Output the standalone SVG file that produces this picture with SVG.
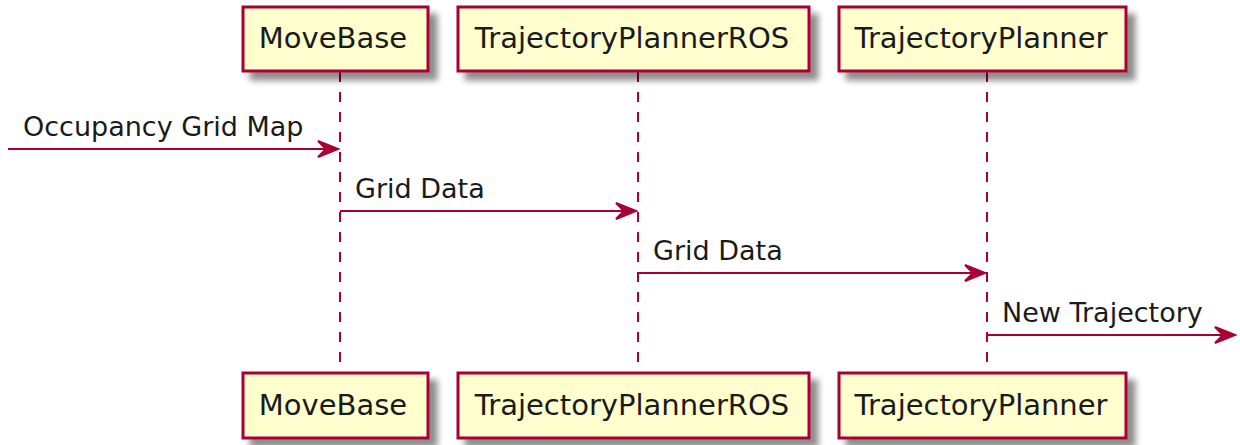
<svg xmlns="http://www.w3.org/2000/svg" width="1240" height="445" viewBox="0 0 1240 445">
<style>
.box{fill:#FEFECE;stroke:#A80036;stroke-width:3;filter:url(#sh)}
.life{stroke:#A80036;stroke-width:2;stroke-dasharray:10,10;fill:none}
.msg{stroke:#A80036;stroke-width:2;fill:none}
.head{fill:#A80036;stroke:#A80036;stroke-width:2}
.pt{font-family:"DejaVu Sans",sans-serif;font-size:29px;fill:#1a1a1a;text-anchor:middle}
.mt{font-family:"DejaVu Sans",sans-serif;font-size:27px;fill:#1a1a1a}
</style>
<defs>
<filter id="sh" x="-20%" y="-30%" width="150%" height="180%">
<feGaussianBlur in="SourceAlpha" stdDeviation="3" result="b"/>
<feOffset in="b" dx="8" dy="8" result="o"/>
<feComponentTransfer in="o" result="c"><feFuncA type="linear" slope="0.45"/></feComponentTransfer>
<feMerge><feMergeNode in="c"/><feMergeNode in="SourceGraphic"/></feMerge>
</filter>
</defs>
<g id="lifelines">
<line class="life" x1="340" y1="72" x2="340" y2="372"/>
<line class="life" x1="638" y1="72" x2="638" y2="372"/>
<line class="life" x1="987" y1="72" x2="987" y2="372"/>
</g>
<g id="MoveBase">
<rect class="box" x="243" y="7" width="185" height="64"/>
<text class="pt" x="333" y="48">MoveBase</text>
<rect class="box" x="243" y="373" width="185" height="65"/>
<text class="pt" x="333" y="415">MoveBase</text>
</g>
<g id="TrajectoryPlannerROS">
<rect class="box" x="458" y="7" width="351" height="64"/>
<text class="pt" x="632" y="48">TrajectoryPlannerROS</text>
<rect class="box" x="458" y="373" width="351" height="65"/>
<text class="pt" x="632" y="415">TrajectoryPlannerROS</text>
</g>
<g id="TrajectoryPlanner">
<rect class="box" x="839" y="7" width="287" height="64"/>
<text class="pt" x="981" y="48">TrajectoryPlanner</text>
<rect class="box" x="839" y="373" width="287" height="65"/>
<text class="pt" x="981" y="415">TrajectoryPlanner</text>
</g>
<g id="connectors">
<line class="msg" x1="8" y1="149" x2="336" y2="149"/>
<polygon class="head" points="338,149 318,141 326,149 318,157"/>
<text class="mt" x="23" y="136">Occupancy Grid Map</text>
<line class="msg" x1="340" y1="211" x2="634" y2="211"/>
<polygon class="head" points="636,211 616,203 624,211 616,219"/>
<text class="mt" x="355" y="198">Grid Data</text>
<line class="msg" x1="638" y1="273" x2="983" y2="273"/>
<polygon class="head" points="985,273 965,265 973,273 965,281"/>
<text class="mt" x="653" y="260">Grid Data</text>
<line class="msg" x1="987" y1="335" x2="1233" y2="335"/>
<polygon class="head" points="1235,335 1215,327 1223,335 1215,343"/>
<text class="mt" x="1002" y="322">New Trajectory</text>
</g>
</svg>
